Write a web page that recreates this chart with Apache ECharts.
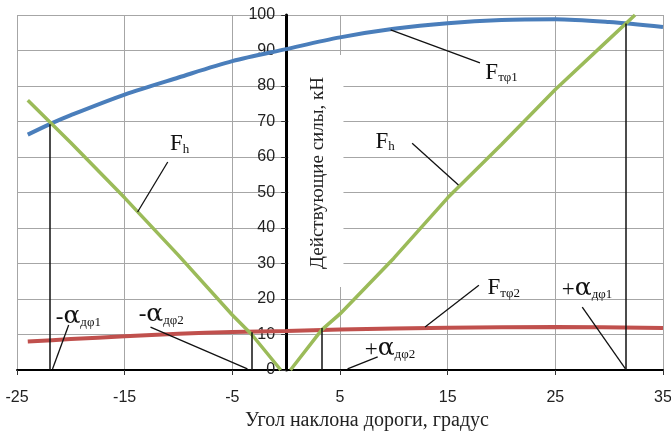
<!DOCTYPE html>
<html>
<head>
<meta charset="utf-8">
<script src="https://cdn.jsdelivr.net/npm/echarts@6/dist/echarts.min.js"></script>
<style>
  html, body { margin: 0; padding: 0; background: #ffffff; }
  #chart { width: 671px; height: 431px; }
</style>
</head>
<body>
<div id="chart"></div>
<script>
  // x ticks / y ticks
  const xTicks = [-25, -15, -5, 5, 15, 25, 35];
  const yTicks = [0, 10, 20, 30, 40, 50, 60, 70, 80, 90, 100];

  // F_tφ1 (blue)
  const angleTf1 = [-24, -22, -20, -15, -10, -5, 0, 5, 10, 15, 20, 25, 30, 35];
  const forceTf1 = [66.3, 69.2, 71.8, 77.6, 82.4, 87.0, 90.4, 93.7, 96.1, 97.7, 98.6, 98.8, 98.0, 96.6];

  // F_tφ2 (red)
  const angleTf2 = [-24, -20, -15, -10, -5, 0, 5, 15, 25, 35];
  const forceTf2 = [8.0, 8.7, 9.5, 10.2, 10.7, 11.0, 11.4, 11.9, 12.1, 11.8];

  // F_h (green), left and right branches
  const angleFhLeft = [-24, -20, -15, -10, -5, -3.2, -0.5];
  const forceFhLeft = [76, 64, 48.5, 32.3, 15.5, 10, 0];
  const angleFhRight = [0.4, 3.3, 5, 10, 15, 20, 25, 30, 32.4];
  const forceFhRight = [0, 11.3, 15.8, 31.5, 48.5, 63.5, 79, 93.2, 100];

  // limit angles (vertical markers) and their heights
  const alphaAngles = [-22, -3.2, 3.3, 31.5];
  const alphaTops = [69.2, 10.6, 11.8, 97.6];

  const zip = (xs, ys) => xs.map((x, i) => [x, ys[i]]);

  const serif = '"Liberation Serif", "Times New Roman", serif';
  const sans = '"Liberation Sans", Arial, sans-serif';

  // annotations: text anchor and leader line, in data units
  const notes = [
    { text: '{f|F}{s|h}', at: [-10.8, 64], from: [-11.0, 58.6], to: [-13.8, 44.5] },
    { text: '{f|F}{s|тφ1}', at: [18.5, 84.2], from: [18.0, 86.5], to: [9.7, 95.8] },
    { text: '{f|F}{s|h}', at: [8.3, 64.8], from: [11.7, 63.9], to: [16.0, 52.1] },
    { text: '{f|F}{s|тφ2}', at: [18.7, 23.4], from: [17.9, 23.9], to: [12.9, 12.1] },
    { text: '{f|+}{a|α}{s|дφ1}', at: [25.6, 23.1], from: [27.5, 17.7], to: [31.5, 0.4] },
    { text: '{f|+}{a|α}{s|дφ2}', at: [7.3, 6.2], from: [8.5, 3.7], to: [5.7, 0.3] },
    { text: '{f|-}{a|α}{s|дφ1}', at: [-21.4, 15.2], from: [-20.2, 12.7], to: [-21.7, 0.3] },
    { text: '{f|-}{a|α}{s|дφ2}', at: [-13.7, 15.8], from: [-12.6, 12.1], to: [-3.6, 0.3] }
  ];

  const chart = echarts.init(document.getElementById('chart'));

  const gridLeft = 17;
  const gridRight = 8;
  const plotWidth = 671 - gridLeft - gridRight;
  // shift the y axis from the left edge to angle 0
  const yAxisShift = plotWidth * (0 - xTicks[0]) / (xTicks[xTicks.length - 1] - xTicks[0]);

  const lineSeries = (name, data, color, width) => ({
    name: name,
    type: 'line',
    data: data,
    showSymbol: false,
    smooth: 0.3,
    lineStyle: { color: color, width: width },
    z: 3
  });

  chart.setOption({
    animation: false,
    grid: { left: gridLeft, right: gridRight, top: 15, bottom: 61, containLabel: false, outerBoundsMode: 'none' },
    xAxis: {
      type: 'value',
      min: xTicks[0],
      max: xTicks[xTicks.length - 1],
      interval: 10,
      name: 'Угол наклона дороги, градус',
      nameLocation: 'middle',
      nameGap: 40,
      nameTextStyle: { fontFamily: serif, fontSize: 20, color: '#222', padding: [0, 0, 0, 54] },
      axisLine: { onZero: false, lineStyle: { color: '#000', width: 2 } },
      axisTick: { show: true, length: 5, lineStyle: { color: '#333' } },
      axisLabel: { fontFamily: sans, fontSize: 16, color: '#222', margin: 20 },
      splitLine: { show: true, lineStyle: { color: '#a6a6a6', width: 1 } }
    },
    yAxis: {
      type: 'value',
      position: 'left',
      offset: -yAxisShift,
      min: yTicks[0],
      max: yTicks[yTicks.length - 1],
      interval: 10,
      axisLine: { onZero: false, lineStyle: { color: '#000', width: 3 } },
      axisTick: { show: true, length: 5, lineStyle: { color: '#333' } },
      axisLabel: { fontFamily: sans, fontSize: 16, color: '#222', margin: 11 },
      splitLine: { show: true, lineStyle: { color: '#a6a6a6', width: 1 } }
    },
    series: [
      lineSeries('F_tφ1', zip(angleTf1, forceTf1), '#4a7ebb', 4),
      Object.assign(lineSeries('F_tφ2', zip(angleTf2, forceTf2), '#c0504d', 4), {
        markLine: {
          silent: true,
          symbol: 'none',
          label: { show: false },
          lineStyle: { color: '#111', width: 1.5, type: 'solid' },
          data: alphaAngles.map((a, i) => [{ coord: [a, 0] }, { coord: [a, alphaTops[i]] }])
        }
      }),
      Object.assign(lineSeries('F_h', zip(angleFhLeft, forceFhLeft), '#9bbb59', 3.5), { smooth: false }),
      Object.assign(lineSeries('F_h ', zip(angleFhRight, forceFhRight), '#9bbb59', 3.5), { smooth: false })
    ]
  });

  const drawNotes = () => {
    const px = (p) => chart.convertToPixel({ gridIndex: 0 }, p);
    const elements = [];
    notes.forEach((n) => {
      const a = px(n.from);
      const b = px(n.to);
      elements.push({
        type: 'line',
        shape: { x1: a[0], y1: a[1], x2: b[0], y2: b[1] },
        style: { stroke: '#111', lineWidth: 1.3 },
        z: 10
      });
      const t = px(n.at);
      elements.push({
        type: 'text',
        x: t[0],
        y: t[1],
        style: {
          text: n.text,
          textAlign: 'left',
          textVerticalAlign: 'middle',
          rich: {
            f: { fontFamily: serif, fontSize: 23, fill: '#111', verticalAlign: 'bottom', lineHeight: 26 },
            a: { fontFamily: '"DejaVu Serif", serif', fontSize: 25, fill: '#111', verticalAlign: 'bottom', lineHeight: 26 },
            s: { fontFamily: serif, fontSize: 13, fill: '#111', verticalAlign: 'bottom', lineHeight: 13 }
          }
        },
        z: 10
      });
    });
    // y axis title on a white box
    const c = px([3.0, 55.5]);
    elements.push({
      type: 'rect',
      shape: { x: c[0] - 30, y: c[1] - 118, width: 55, height: 232 },
      style: { fill: '#ffffff' },
      z: 1
    });
    elements.push({
      type: 'text',
      x: c[0],
      y: c[1],
      rotation: Math.PI / 2,
      style: {
        text: 'Действующие силы, кН',
        fontFamily: serif,
        fontSize: 19,
        fill: '#222',
        textAlign: 'center',
        textVerticalAlign: 'middle'
      },
      z: 11
    });
    chart.setOption({ graphic: elements });
  };
  drawNotes();

  window.addEventListener('resize', function () {
    chart && chart.resize();
    drawNotes();
  });
</script>
</body>
</html>
